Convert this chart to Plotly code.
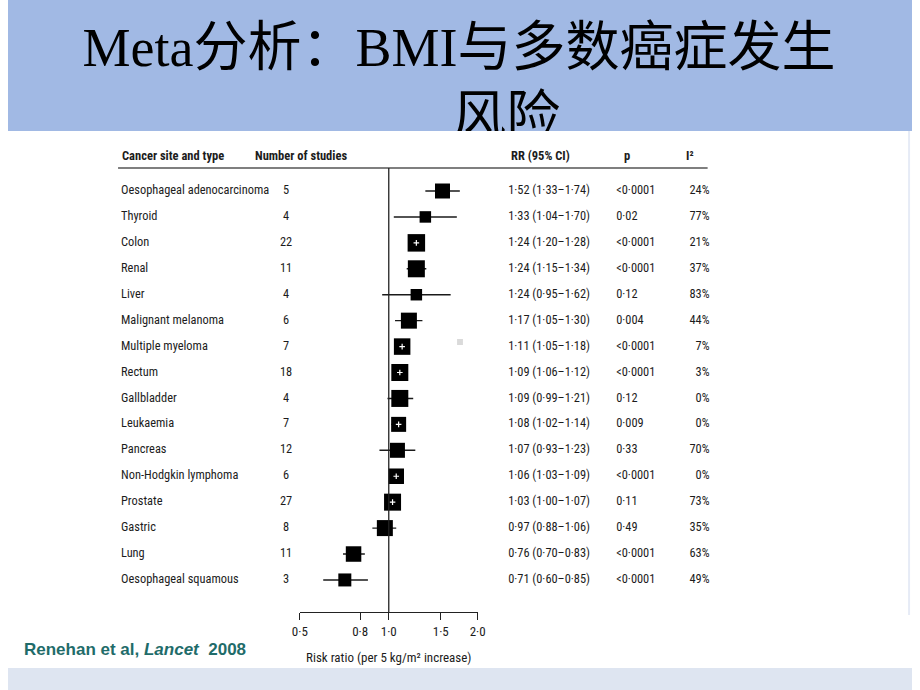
import plotly.graph_objects as go

# ---------------- data ----------------
sites = ["Oesophageal adenocarcinoma", "Thyroid", "Colon", "Renal", "Liver",
         "Malignant melanoma", "Multiple myeloma", "Rectum", "Gallbladder",
         "Leukaemia", "Pancreas", "Non-Hodgkin lymphoma", "Prostate", "Gastric",
         "Lung", "Oesophageal squamous"]
n_studies = [5, 4, 22, 11, 4, 6, 7, 18, 4, 7, 12, 6, 27, 8, 11, 3]
rr = [1.52, 1.33, 1.24, 1.24, 1.24, 1.17, 1.11, 1.09, 1.09, 1.08, 1.07, 1.06, 1.03, 0.97, 0.76, 0.71]
ci_low = [1.33, 1.04, 1.20, 1.15, 0.95, 1.05, 1.05, 1.06, 0.99, 1.02, 0.93, 1.03, 1.00, 0.88, 0.70, 0.60]
ci_high = [1.74, 1.70, 1.28, 1.34, 1.62, 1.30, 1.18, 1.12, 1.21, 1.14, 1.23, 1.09, 1.07, 1.06, 0.83, 0.85]
p_values = ["<0·0001", "0·02", "<0·0001", "<0·0001", "0·12", "0·004", "<0·0001", "<0·0001",
            "0·12", "0·009", "0·33", "<0·0001", "0·11", "0·49", "<0·0001", "<0·0001"]
i2 = [24, 77, 21, 37, 83, 44, 7, 3, 0, 0, 70, 0, 73, 35, 63, 49]
tick_values = [0.5, 0.8, 1.0, 1.5, 2.0]
tick_labels = ["0·5", "0·8", "1·0", "1·5", "2·0"]

# ---------------- styles ----------------
BOX_PX = [15, 11.5, 17.5, 17, 11.5, 16, 16.5, 17, 17, 15, 15, 15.5, 17, 16, 15.5, 13]
NARROW = "Liberation Sans Narrow, Arial Narrow, Roboto Condensed, Liberation Sans, sans-serif"
TXT = "#1c1c1c"
W, H = 920, 690


def fmt(v):
    return f"{v:.2f}".replace(".", "·")


rows = list(range(len(sites)))
rr_text = [f"{fmt(a)} ({fmt(b)}–{fmt(c)})" for a, b, c in zip(rr, ci_low, ci_high)]
i2_text = [f"{v}%" for v in i2]

# pixel geometry
ax_x0, ax_x1 = 297, 478
ax_ytop, ax_ybot = 168, 612
row0, row_step = 191, 25.93
y_range = [(ax_ybot - row0) / row_step, (ax_ytop - row0) / row_step]
ydom = [(H - ax_ybot) / H, (H - ax_ytop) / H]

fig = go.Figure()

# CI lines + boxes
fig.add_trace(go.Scatter(
    x=rr, y=rows, mode="markers",
    marker=dict(symbol="square", size=BOX_PX, color="#000000", opacity=1, line=dict(width=0)),
    error_x=dict(type="data", symmetric=False,
                 array=[h - r for h, r in zip(ci_high, rr)],
                 arrayminus=[r - l for r, l in zip(rr, ci_low)],
                 width=0, thickness=1.4, color="#1a1a1a"),
    opacity=1,
    xaxis="x", yaxis="y", cliponaxis=False, hoverinfo="skip", showlegend=False))

# white centre marks on boxes with narrow CIs
narrow_idx = [i for i in rows if ci_high[i] / ci_low[i] < 1.13]
fig.add_trace(go.Scatter(
    x=[rr[i] for i in narrow_idx], y=narrow_idx, mode="markers",
    marker=dict(symbol="cross-thin", size=4, line=dict(width=1.2, color="white")),
    xaxis="x", yaxis="y", cliponaxis=False, hoverinfo="skip", showlegend=False))

# table text columns (pixel x positions on x2)
def col(xpos, texts, pos):
    fig.add_trace(go.Scatter(
        x=[xpos] * len(texts), y=rows, mode="text", text=texts, textposition=pos,
        textfont=dict(family=NARROW, size=12.4, color=TXT),
        xaxis="x2", yaxis="y2", cliponaxis=False, hoverinfo="skip", showlegend=False))

col(115, sites, "middle right")
col(283, [str(n) for n in n_studies], "middle center")
col(509, rr_text, "middle right")
col(619, p_values, "middle right")
col(714, i2_text, "middle left")

# title (clipped by the white panel via the title subplot)
fig.add_trace(go.Scatter(
    x=[459, 507], y=[52, 121], mode="text",
    text=["Meta分析：BMI与多数癌症发生", "风险"], textposition="middle center",
    textfont=dict(family="Liberation Serif, Noto Sans CJK SC", size=54, color="black"),
    xaxis="x3", yaxis="y3", cliponaxis=True, hoverinfo="skip", showlegend=False))

hidden = dict(visible=False, showgrid=False, zeroline=False, fixedrange=True)

fig.update_layout(
    width=W, height=H, margin=dict(l=0, r=0, t=0, b=0),
    paper_bgcolor="white", plot_bgcolor="rgba(0,0,0,0)",
    xaxis=dict(type="log", domain=[ax_x0 / W, ax_x1 / W],
               range=[-0.30103, 0.30103], anchor="y",
               showline=True, linecolor="#222", linewidth=1.3,
               ticks="outside", ticklen=7, tickcolor="#222", tickwidth=1.3,
               tickvals=tick_values, ticktext=tick_labels,
               tickfont=dict(family=NARROW, size=13, color=TXT),
               showgrid=False, zeroline=False, fixedrange=True),
    yaxis=dict(domain=ydom, range=y_range, anchor="x", **hidden),
    xaxis2=dict(domain=[0, 1], range=[0, W], anchor="y2", **hidden),
    yaxis2=dict(domain=ydom, range=y_range, anchor="x2", **hidden),
    xaxis3=dict(domain=[0, 1], range=[0, W], anchor="y3", **hidden),
    yaxis3=dict(domain=[(H - 131) / H, 1], range=[131, 0], anchor="x3", **hidden),
    shapes=[
        dict(type="rect", xref="paper", yref="paper", x0=0, x1=1, y0=(H - 131) / H, y1=1,
             fillcolor="#A1B9E4", line=dict(width=0), layer="below"),
        dict(type="rect", xref="paper", yref="paper", x0=0, x1=1, y0=0, y1=(H - 668) / H,
             fillcolor="#DEE5F1", line=dict(width=0), layer="below"),
        dict(type="line", xref="paper", yref="paper", x0=917 / W, x1=917 / W,
             y0=(H - 615) / H, y1=(H - 131) / H, line=dict(color="#E6EBF6", width=2), layer="below"),
        # header rule
        dict(type="line", xref="paper", yref="paper", x0=112 / W, x1=712 / W,
             y0=(H - 168) / H, y1=(H - 168) / H, line=dict(color="#555", width=1.6)),
        # line of no effect
        dict(type="line", xref="x", yref="y domain", x0=1, x1=1, y0=0, y1=1,
             line=dict(color="#222", width=1.3)),
        # small grey speck
        dict(type="rect", xref="paper", yref="paper", x0=457 / W, x1=463 / W,
             y0=(H - 345) / H, y1=(H - 339) / H, fillcolor="#DADADA", line=dict(width=0)),
    ],
    annotations=[
        dict(text="<b>Cancer site and type</b>", x=114 / W, y=(H - 155) / H, xref="paper", yref="paper",
             xanchor="left", yanchor="middle", showarrow=False, font=dict(family=NARROW, size=12.5, color=TXT)),
        dict(text="<b>Number of studies</b>", x=249 / W, y=(H - 155) / H, xref="paper", yref="paper",
             xanchor="left", yanchor="middle", showarrow=False, font=dict(family=NARROW, size=12.5, color=TXT)),
        dict(text="<b>RR (95% CI)</b>", x=510 / W, y=(H - 155) / H, xref="paper", yref="paper",
             xanchor="left", yanchor="middle", showarrow=False, font=dict(family=NARROW, size=12.5, color=TXT)),
        dict(text="<b>p</b>", x=625 / W, y=(H - 155) / H, xref="paper", yref="paper",
             xanchor="left", yanchor="middle", showarrow=False, font=dict(family=NARROW, size=12.5, color=TXT)),
        dict(text="<b>I²</b>", x=688 / W, y=(H - 155) / H, xref="paper", yref="paper",
             xanchor="left", yanchor="middle", showarrow=False, font=dict(family=NARROW, size=12.5, color=TXT)),
        dict(text="Risk ratio (per 5 kg/m² increase)", x=388 / W, y=(H - 657) / H, xref="paper", yref="paper",
             xanchor="center", yanchor="middle", showarrow=False, font=dict(family=NARROW, size=13, color=TXT)),
        dict(text="<b>Renehan et al, <i>Lancet</i>  2008</b>", x=14 / W, y=(H - 649) / H,
             xref="paper", yref="paper", xanchor="left", yanchor="middle", showarrow=False,
             font=dict(family="Liberation Sans, Arial, sans-serif", size=17, color="#1F6C6A")),
    ],
)

fig.write_html("out.html")
